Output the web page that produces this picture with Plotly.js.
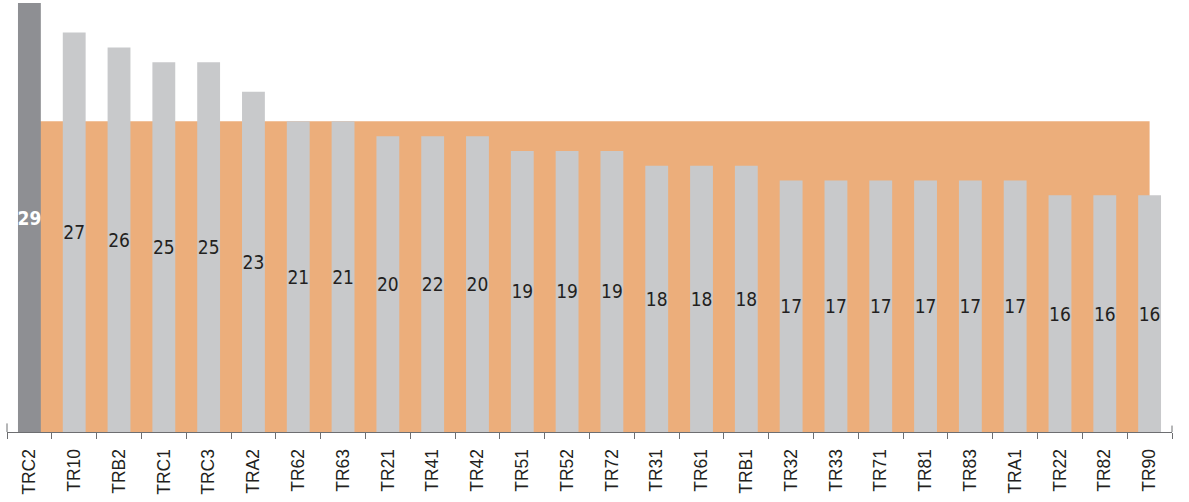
<!DOCTYPE html>
<html><head><meta charset="utf-8">
<script src="https://cdn.plot.ly/plotly-3.0.1.min.js"></script>
<style>html,body{margin:0;padding:0;background:#fff}#chart{width:1189px;height:502px}</style>
</head><body><div id="chart"></div>
<script>
const categories = ["TRC2","TR10","TRB2","TRC1","TRC3","TRA2","TR62","TR63","TR21","TR41","TR42","TR51","TR52","TR72","TR31","TR61","TRB1","TR32","TR33","TR71","TR81","TR83","TRA1","TR22","TR82","TR90"];
const values = [29,27,26,25,25,23,21,21,20,20,20,19,19,19,18,18,18,17,17,17,17,17,17,16,16,16];
const labels = ["29","27","26","25","25","23","21","21","20","22","20","19","19","19","18","18","18","17","17","17","17","17","17","16","16","16"];
const target = [21,21,21,21,21,21,21,21,21,21,21,21,21,21,21,21,21,21,21,21,21,21,21,21,21,21];

const barColors = values.map((v,i)=> i===0 ? '#8e8f93' : '#c8c9cb');
const textColors = values.map((v,i)=> i===0 ? '#ffffff' : '#231f20');
const texts = labels.map((t,i)=> i===0 ? '<b>'+t+'</b>' : t);

const traces = [
  {type:'scatter', x:categories, y:target, mode:'none', fill:'tozeroy', fillcolor:'#ecae7b', hoverinfo:'skip', xaxis:'x', yaxis:'y'},
  {type:'bar', x:categories, y:values, text:texts, textposition:'inside', insidetextanchor:'middle', textangle:0,
   constraintext:'none', marker:{color:barColors, line:{width:0}},
   textfont:{family:'DejaVu Sans Condensed, DejaVu Sans, sans-serif', size:19, color:textColors},
   xaxis:'x2', yaxis:'y2', cliponaxis:false}
];

const layout = {
  width:1189, height:502,
  margin:{l:7, r:17, t:3, b:70},
  paper_bgcolor:'#ffffff', plot_bgcolor:'rgba(0,0,0,0)',
  showlegend:false, bargap:0.49,
  xaxis:{type:'category', categoryorder:'array', categoryarray:categories, range:[-0.5,25.5],
    showline:true, linecolor:'#6d6e71', linewidth:1, ticks:'outside', tickson:'boundaries', ticklen:6,
    tickcolor:'#6d6e71', tickwidth:1, tickangle:-90, showgrid:false, zeroline:false, ticklabelstandoff:9,
    tickfont:{family:'Liberation Sans, Arial, sans-serif', size:17.5, color:'#231f20'}},
  yaxis:{range:[0,29], visible:false, showgrid:false, zeroline:false},
  xaxis2:{type:'category', categoryorder:'array', categoryarray:categories, range:[-0.5,25.5], overlaying:'x', visible:false},
  yaxis2:{range:[0,29], overlaying:'y', visible:false},
  shapes:[
    {type:'line', xref:'paper', yref:'paper', x0:0, x1:0, y0:0, y1:0.02, line:{color:'#6d6e71', width:1}},
    {type:'line', xref:'paper', yref:'paper', x0:1, x1:1, y0:0, y1:0.015, line:{color:'#6d6e71', width:1}}
  ]
};
Plotly.newPlot('chart', traces, layout, {displayModeBar:false, staticPlot:true});
</script></body></html>
